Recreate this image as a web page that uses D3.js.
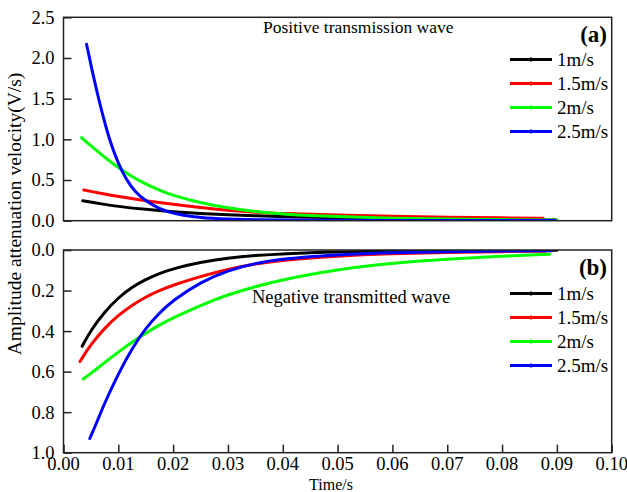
<!DOCTYPE html>
<html>
<head>
<meta charset="utf-8">
<script src="https://cdn.jsdelivr.net/npm/d3@7"></script>
<style>
  html, body { margin: 0; padding: 0; background: #fff; }
  svg text { font-family: "Liberation Serif", "Times New Roman", serif; fill: #000; }
</style>
</head>
<body>
<svg id="chart" width="627" height="492"></svg>
<script>
// Speeds shown in both panels
const speeds = ["1m/s", "1.5m/s", "2m/s", "2.5m/s"];
const colors = ["#000000", "#ff0000", "#00ff00", "#0000ff"];

// Time ticks and amplitude ticks
const timeTicks = [0, 0.01, 0.02, 0.03, 0.04, 0.05, 0.06, 0.07, 0.08, 0.09, 0.10];
const posTicks = [0, 0.5, 1.0, 1.5, 2.0, 2.5];
const negTicks = [0, 0.2, 0.4, 0.6, 0.8, 1.0];

// (a) Positive transmission wave: [time (s), amplitude attenuation velocity (V/s)]
const pos1 = [[0.0035,0.246],[0.005,0.228],[0.0075,0.2],[0.01,0.175],[0.015,0.138],[0.02,0.11],[0.025,0.088],[0.03,0.072],[0.035,0.06],[0.04,0.05],[0.05,0.036],[0.06,0.026],[0.07,0.018],[0.08,0.012],[0.09,0.008]];
const pos15 = [[0.0037,0.377],[0.005,0.36],[0.0075,0.328],[0.01,0.298],[0.015,0.245],[0.02,0.2],[0.025,0.16],[0.03,0.128],[0.035,0.104],[0.04,0.088],[0.05,0.068],[0.06,0.053],[0.07,0.043],[0.08,0.035],[0.0875,0.03]];
const pos2 = [[0.0033,1.02],[0.005,0.92],[0.0075,0.78],[0.01,0.65],[0.0125,0.54],[0.015,0.45],[0.0175,0.375],[0.02,0.31],[0.025,0.22],[0.03,0.155],[0.035,0.11],[0.04,0.08],[0.05,0.048],[0.06,0.03],[0.07,0.02],[0.08,0.013],[0.09,0.008]];
const pos25 = [[0.0042,2.17],[0.0054,1.79],[0.0064,1.5],[0.0073,1.26],[0.0085,0.97],[0.01,0.7],[0.0115,0.5],[0.013,0.36],[0.015,0.24],[0.0175,0.145],[0.02,0.088],[0.0237,0.045],[0.028,0.022],[0.035,0.01],[0.045,0.005],[0.06,0.003],[0.075,0.002],[0.0897,0.001]];

// (b) Negative transmitted wave: [time (s), amplitude attenuation velocity (V/s)]
const neg1 = [[0.0034,0.475],[0.005,0.395],[0.0075,0.305],[0.01,0.235],[0.0125,0.183],[0.015,0.145],[0.0175,0.115],[0.02,0.092],[0.025,0.06],[0.03,0.04],[0.035,0.027],[0.04,0.018],[0.05,0.009],[0.06,0.005],[0.07,0.003],[0.08,0.002],[0.09,0.001]];
const neg15 = [[0.003,0.55],[0.005,0.465],[0.0075,0.385],[0.01,0.322],[0.0125,0.272],[0.015,0.232],[0.0175,0.2],[0.02,0.173],[0.025,0.13],[0.03,0.095],[0.035,0.068],[0.04,0.05],[0.05,0.029],[0.06,0.018],[0.07,0.012],[0.08,0.008],[0.088,0.006]];
const neg2 = [[0.0036,0.636],[0.005,0.61],[0.0075,0.555],[0.01,0.503],[0.0125,0.455],[0.015,0.41],[0.0175,0.37],[0.02,0.335],[0.025,0.272],[0.03,0.22],[0.035,0.18],[0.04,0.147],[0.045,0.12],[0.05,0.098],[0.055,0.08],[0.06,0.065],[0.07,0.045],[0.08,0.03],[0.0887,0.021]];
const neg25 = [[0.0048,0.93],[0.006,0.855],[0.0075,0.755],[0.01,0.61],[0.0125,0.485],[0.015,0.385],[0.0175,0.31],[0.02,0.248],[0.025,0.158],[0.03,0.1],[0.035,0.065],[0.04,0.043],[0.05,0.023],[0.06,0.013],[0.07,0.008],[0.08,0.005],[0.089,0.004]];

const posSeries = [pos1, pos15, pos2, pos25];
const negSeries = [neg1, neg15, neg2, neg25];

const svg = d3.select("#chart");
const L = 63.5, R = 611.7;
const x = d3.scaleLinear().domain([0, 0.1]).range([L, R]);

const panels = [
  { series: posSeries, ticks: posTicks, y: d3.scaleLinear().domain([0, 2.5]).range([220.7, 17.3]),
    top: 17.3, bottom: 220.7, tag: "(a)", tagY: 42,
    note: "Positive transmission wave", noteSize: 17.5, noteX: 263, noteY: 33, legendY: 59.5, xTicks: false },
  { series: negSeries, ticks: negTicks, y: d3.scaleLinear().domain([0, 1]).range([250, 452.7]),
    top: 250, bottom: 452.7, tag: "(b)", tagY: 275,
    note: "Negative transmitted wave", noteSize: 18.5, noteX: 252, noteY: 303, legendY: 293.5, xTicks: true }
];

panels.forEach(p => {
  const g = svg.append("g");

  // inward ticks on the left axis
  const yAxis = d3.axisRight(p.y).tickValues(p.ticks).tickSize(8).tickFormat("");
  g.append("g").attr("transform", `translate(${L},0)`).call(yAxis)
    .call(a => a.select(".domain").remove())
    .call(a => a.selectAll("line").attr("stroke", "#222").attr("stroke-width", 1.5));

  // left tick labels
  g.selectAll(".ylab").data(p.ticks).join("text")
    .attr("x", L - 9).attr("y", d => p.y(d)).attr("dy", "0.35em")
    .attr("text-anchor", "end").attr("font-size", 18.5).text(d => d3.format(".1f")(d));

  if (p.xTicks) {
    const xAxis = d3.axisTop(x).tickValues(timeTicks).tickSize(8).tickFormat("");
    g.append("g").attr("transform", `translate(0,${p.bottom})`).call(xAxis)
      .call(a => a.select(".domain").remove())
      .call(a => a.selectAll("line").attr("stroke", "#222").attr("stroke-width", 1.5));
    g.selectAll(".xlab").data(timeTicks).join("text")
      .attr("x", d => x(d)).attr("y", p.bottom + 17.5)
      .attr("text-anchor", "middle").attr("font-size", 18.5).text(d => d3.format(".2f")(d));
  }

  // curves
  const line = d3.line().x(d => x(d[0])).y(d => p.y(d[1])).curve(d3.curveBasis);
  const clipId = "clip" + p.tag.replace(/[()]/g, "");
  svg.append("clipPath").attr("id", clipId).append("rect")
    .attr("x", L).attr("y", p.top).attr("width", R - L).attr("height", p.bottom - p.top);
  g.append("g").attr("clip-path", `url(#${clipId})`)
    .selectAll("path").data(p.series).join("path")
    .attr("d", line).attr("fill", "none")
    .attr("stroke", (d, i) => colors[i]).attr("stroke-width", 3)
    .attr("stroke-linecap", "round").attr("stroke-linejoin", "round");

  // frame
  g.append("rect").attr("x", L).attr("y", p.top).attr("width", R - L).attr("height", p.bottom - p.top)
    .attr("fill", "none").attr("stroke", "#222").attr("stroke-width", 1.5);

  // annotation and panel tag
  g.append("text").attr("x", p.noteX).attr("y", p.noteY).attr("font-size", p.noteSize).text(p.note);
  g.append("text").attr("x", 607).attr("y", p.tagY).attr("text-anchor", "end")
    .attr("font-size", 23).attr("font-weight", "bold").text(p.tag);

  // legend
  const lg = g.append("g");
  speeds.forEach((s, i) => {
    const yy = p.legendY + i * 24;
    lg.append("line").attr("x1", 510).attr("x2", 552).attr("y1", yy).attr("y2", yy)
      .attr("stroke", colors[i]).attr("stroke-width", 3);
    lg.append("rect").attr("x", 530).attr("y", yy - 2).attr("width", 2).attr("height", 4)
      .attr("fill", colors[i]);
    lg.append("text").attr("x", 557).attr("y", yy).attr("dy", "0.35em")
      .attr("font-size", 19).text(s);
  });
});

// axis titles
svg.append("text").attr("transform", "translate(21,214) rotate(-90)")
  .attr("text-anchor", "middle").attr("font-size", 19.5).text("Amplitude attenuation velocity(V/s)");
svg.append("text").attr("x", 331).attr("y", 490).attr("text-anchor", "middle")
  .attr("font-size", 16).text("Time/s");
</script>
</body>
</html>
